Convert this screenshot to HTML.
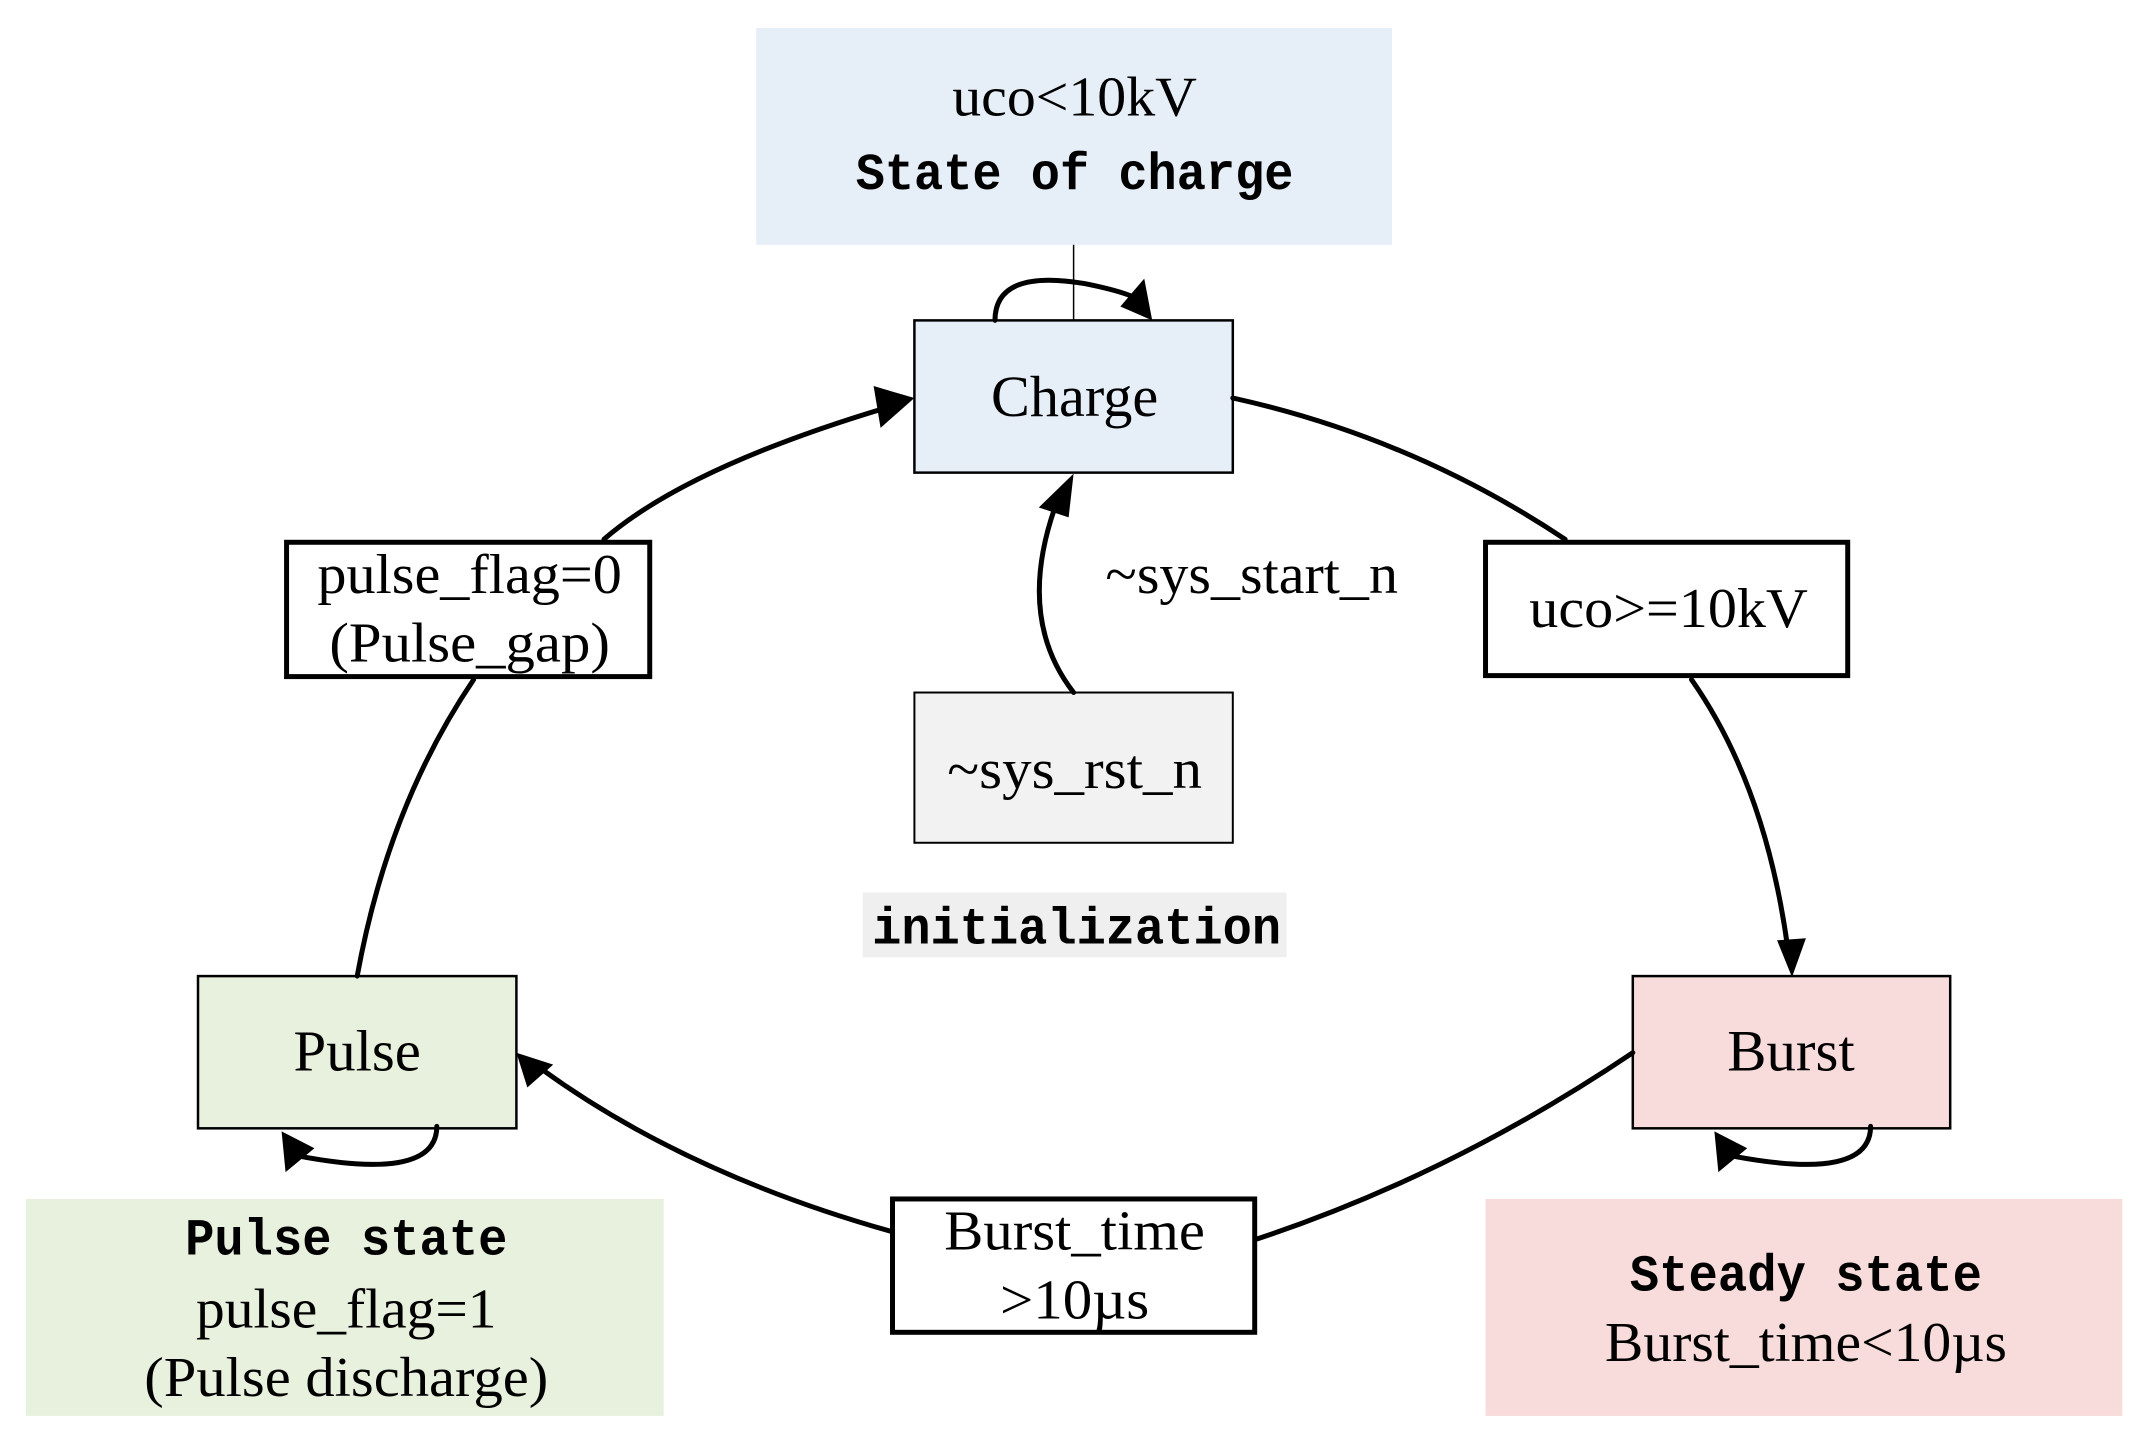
<!DOCTYPE html>
<html><head><meta charset="utf-8"><style>
html,body{margin:0;padding:0;background:#fff;}
svg{display:block;}
.s{font-family:"Liberation Serif",serif;fill:#000;}
.m{font-family:"Liberation Mono",monospace;font-weight:bold;fill:#000;}
</style></head><body>
<svg width="2153" height="1448" viewBox="0 0 2153 1448" xmlns="http://www.w3.org/2000/svg">
<g transform="scale(0.995)">
<rect x="760" y="28" width="639" height="218" fill="#e6eef7"/>
<rect x="26" y="1205" width="641" height="218" fill="#e8f0de"/>
<rect x="1493" y="1205" width="640" height="218" fill="#f8dbdb"/>
<rect x="867" y="897" width="426" height="65" fill="#efefef"/>
<line x1="1079" y1="246" x2="1079" y2="322" stroke="#000" stroke-width="1.5"/>

<rect x="919" y="322" width="320" height="153" fill="#e6eef7" stroke="#000" stroke-width="2.5"/>
<rect x="1641" y="981" width="319" height="153" fill="#f8dbdb" stroke="#000" stroke-width="2.5"/>
<rect x="199" y="981" width="320" height="153" fill="#e8f0de" stroke="#000" stroke-width="2.5"/>
<rect x="919" y="696" width="320" height="151" fill="#f2f2f2" stroke="#000" stroke-width="2"/>
<rect x="288" y="545" width="365" height="135" fill="#fff" stroke="#000" stroke-width="5"/>
<rect x="1493" y="545" width="364" height="134" fill="#fff" stroke="#000" stroke-width="5"/>
<rect x="897" y="1205" width="364" height="134" fill="#fff" stroke="#000" stroke-width="5"/>

<g fill="none" stroke="#000" stroke-width="5" stroke-linecap="round">
<path d="M607,542 Q690,470 890,410"/>
<path d="M1239,400 Q1420,440 1573,542"/>
<path d="M1700,683 Q1775,790 1797,955"/>
<path d="M1641,1058 Q1460,1180 1264,1245"/>
<path d="M897,1238 Q690,1180 545,1075"/>
<path d="M359,981 Q390,810 476,683"/>
<path d="M1079,696 Q1020,620 1062,505"/>
<path d="M1000,322 Q1000,270 1090,285 Q1140,295 1150,305"/>
<path d="M1880,1132 Q1880,1188 1742,1162"/>
<path d="M439,1132 Q439,1188 301,1162"/>
</g>
<g fill="#000">
<polygon points="919,400 878,388 885,430"/>
<polygon points="1801,982 1786,945 1815,943"/>
<polygon points="519,1058 530,1093 556,1070"/>
<polygon points="1079,476 1044,510 1074,520"/>
<polygon points="1158,322 1150,280 1126,308"/>
<polygon points="1723,1137 1727,1178 1756,1154"/>
<polygon points="283,1137 287,1178 316,1154"/>
</g>

<text class="s" x="1080" y="116" font-size="56" text-anchor="middle" textLength="246" lengthAdjust="spacingAndGlyphs">uco&lt;10kV</text>
<text class="m" x="1080" y="190" font-size="52" text-anchor="middle" textLength="440" lengthAdjust="spacingAndGlyphs">State of charge</text>
<text class="s" x="1080" y="418" font-size="58" text-anchor="middle" textLength="168" lengthAdjust="spacingAndGlyphs">Charge</text>
<text class="s" x="1800" y="1076" font-size="58" text-anchor="middle" textLength="128" lengthAdjust="spacingAndGlyphs">Burst</text>
<text class="s" x="359" y="1076" font-size="58" text-anchor="middle" textLength="128" lengthAdjust="spacingAndGlyphs">Pulse</text>
<text class="s" x="1080" y="792" font-size="56" text-anchor="middle" textLength="256" lengthAdjust="spacingAndGlyphs">~sys_rst_n</text>
<text class="s" x="1258" y="596" font-size="56" text-anchor="middle" textLength="294" lengthAdjust="spacingAndGlyphs">~sys_start_n</text>
<text class="m" x="1082" y="948" font-size="52" text-anchor="middle" textLength="411" lengthAdjust="spacingAndGlyphs">initialization</text>
<text class="s" x="472" y="596" font-size="56" text-anchor="middle" textLength="306" lengthAdjust="spacingAndGlyphs">pulse_flag=0</text>
<text class="s" x="472" y="665" font-size="56" text-anchor="middle" textLength="282" lengthAdjust="spacingAndGlyphs">(Pulse_gap)</text>
<text class="s" x="1677" y="630" font-size="56" text-anchor="middle" textLength="280" lengthAdjust="spacingAndGlyphs">uco&gt;=10kV</text>
<text class="s" x="1080" y="1256" font-size="56" text-anchor="middle" textLength="262" lengthAdjust="spacingAndGlyphs">Burst_time</text>
<text class="s" x="1080" y="1325" font-size="56" text-anchor="middle" textLength="150" lengthAdjust="spacingAndGlyphs">&gt;10µs</text>
<text class="m" x="348" y="1261" font-size="52" text-anchor="middle" textLength="324" lengthAdjust="spacingAndGlyphs">Pulse state</text>
<text class="s" x="348" y="1334" font-size="56" text-anchor="middle" textLength="302" lengthAdjust="spacingAndGlyphs">pulse_flag=1</text>
<text class="s" x="348" y="1403" font-size="56" text-anchor="middle" textLength="406" lengthAdjust="spacingAndGlyphs">(Pulse discharge)</text>
<text class="m" x="1815" y="1297" font-size="52" text-anchor="middle" textLength="354" lengthAdjust="spacingAndGlyphs">Steady state</text>
<text class="s" x="1815" y="1368" font-size="56" text-anchor="middle" textLength="404" lengthAdjust="spacingAndGlyphs">Burst_time&lt;10µs</text>
</g>
</svg>
</body></html>
